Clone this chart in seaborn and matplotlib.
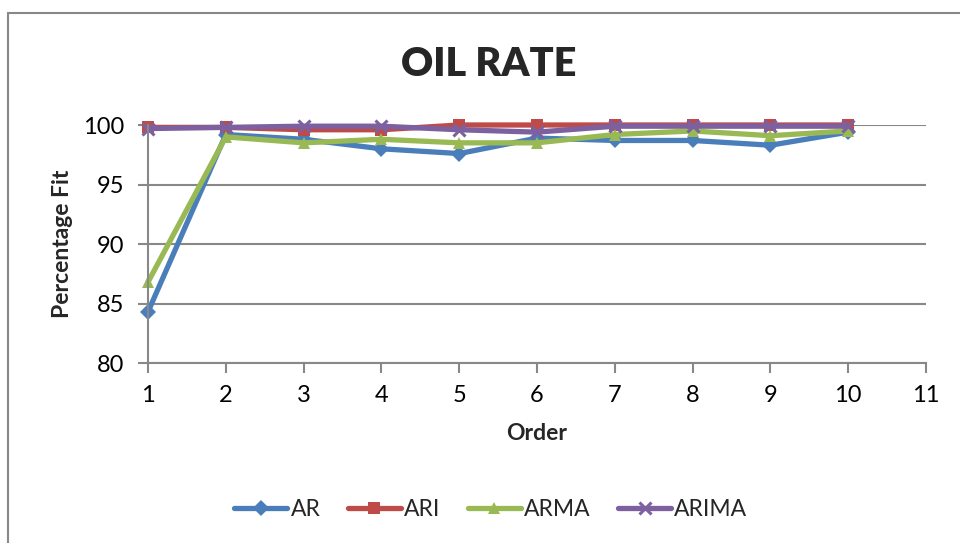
import matplotlib
matplotlib.use("Agg")
import matplotlib.pyplot as plt
from matplotlib.patches import Rectangle
from matplotlib.lines import Line2D
import seaborn as sns
import pandas as pd

# Percentage fit by model order
orders = [1, 2, 3, 4, 5, 6, 7, 8, 9, 10]
ar = [84.3, 99.2, 98.8, 98.0, 97.6, 98.9, 98.7, 98.7, 98.3, 99.4]
ari = [99.8, 99.8, 99.6, 99.6, 100.0, 100.0, 100.0, 100.0, 100.0, 100.0]
arma = [86.8, 99.0, 98.5, 98.8, 98.5, 98.5, 99.2, 99.5, 99.1, 99.5]
arima = [99.7, 99.8, 99.9, 99.9, 99.6, 99.4, 99.9, 99.9, 99.9, 99.9]
series_names = ["AR", "ARI", "ARMA", "ARIMA"]
y_ticks = [80, 85, 90, 95, 100]
x_ticks = [1, 2, 3, 4, 5, 6, 7, 8, 9, 10, 11]

sns.set_style("white")
plt.rcParams["font.family"] = ["Lato", "DejaVu Sans"]

colors = {"AR": "#4A7EBB", "ARI": "#BE4B48", "ARMA": "#98B954", "ARIMA": "#7D60A0"}
# seaborn needs all-filled markers; the ARIMA cross is swapped to a thin "x" afterwards
markers = {"AR": "D", "ARI": "s", "ARMA": "^", "ARIMA": "X"}
final_markers = {"AR": "D", "ARI": "s", "ARMA": "^", "ARIMA": "x"}
marker_sizes = {"AR": 8, "ARI": 8.5, "ARMA": 9, "ARIMA": 9}
grey = "#888888"
lw = 3.8

df = pd.DataFrame({
    "Order": orders * 4,
    "Fit": ar + ari + arma + arima,
    "Model": sum([[n] * len(orders) for n in series_names], []),
})

fig = plt.figure(figsize=(9.6, 5.43), dpi=100)
ax = fig.add_axes([148 / 960, 1 - 363 / 543, (926 - 148) / 960, (363 - 125) / 543])

sns.lineplot(data=df, x="Order", y="Fit", hue="Model", style="Model",
             palette=colors, markers=markers, dashes=False, linewidth=lw,
             hue_order=series_names, style_order=series_names, legend=False, ax=ax)


def style_marker(line, name):
    line.set_clip_on(False)
    line.set_solid_capstyle("round")
    line.set_solid_joinstyle("round")
    line.set_marker(final_markers[name])
    line.set_markersize(marker_sizes[name])
    if final_markers[name] == "x":
        line.set_markeredgecolor(colors[name])
        line.set_markeredgewidth(2.2)
    else:
        line.set_markerfacecolor(colors[name])
        line.set_markeredgewidth(0)


for line, name in zip(ax.lines, series_names):
    style_marker(line, name)

ax.set_xlim(1, 11)
ax.set_ylim(80, 100)
ax.set_xticks(x_ticks)
ax.set_yticks(y_ticks)
ax.yaxis.grid(True, color=grey, linewidth=1.5)
ax.set_axisbelow(True)
for side in ["top", "right"]:
    ax.spines[side].set_visible(False)
for side in ["left", "bottom"]:
    ax.spines[side].set_color(grey)
    ax.spines[side].set_linewidth(1.5)
ax.tick_params(axis="both", which="major", direction="out", length=7, width=1.5,
               color=grey, labelsize=17, labelcolor="black")
ax.tick_params(axis="x", pad=9, bottom=True)
ax.tick_params(axis="y", pad=10, left=True)

ax.set_xlabel("Order", fontsize=16.5, fontweight="bold", labelpad=12)
ax.set_ylabel("Percentage Fit", fontsize=16.5, fontweight="bold", labelpad=7)

fig.text(489 / 960, 1 - 65 / 543, "OIL RATE", ha="center", va="center",
         fontsize=28.5, fontweight="heavy")

handles = []
for n in series_names:
    h = Line2D([0], [0], color=colors[n], linewidth=lw, solid_capstyle="round")
    style_marker(h, n)
    handles.append(h)
fig.legend(handles, series_names, loc="center", bbox_to_anchor=(491 / 960, 1 - 510 / 543),
           ncol=4, frameon=False, fontsize=16.5, handlelength=2.3, handletextpad=0.15,
           columnspacing=1.2)

fig.add_artist(Rectangle((8 / 960, -0.1), 1.2, 1.1 - 13 / 543,
                         transform=fig.transFigure, fill=False, edgecolor=grey,
                         linewidth=1.5))

fig.savefig("out.png", dpi=100)
